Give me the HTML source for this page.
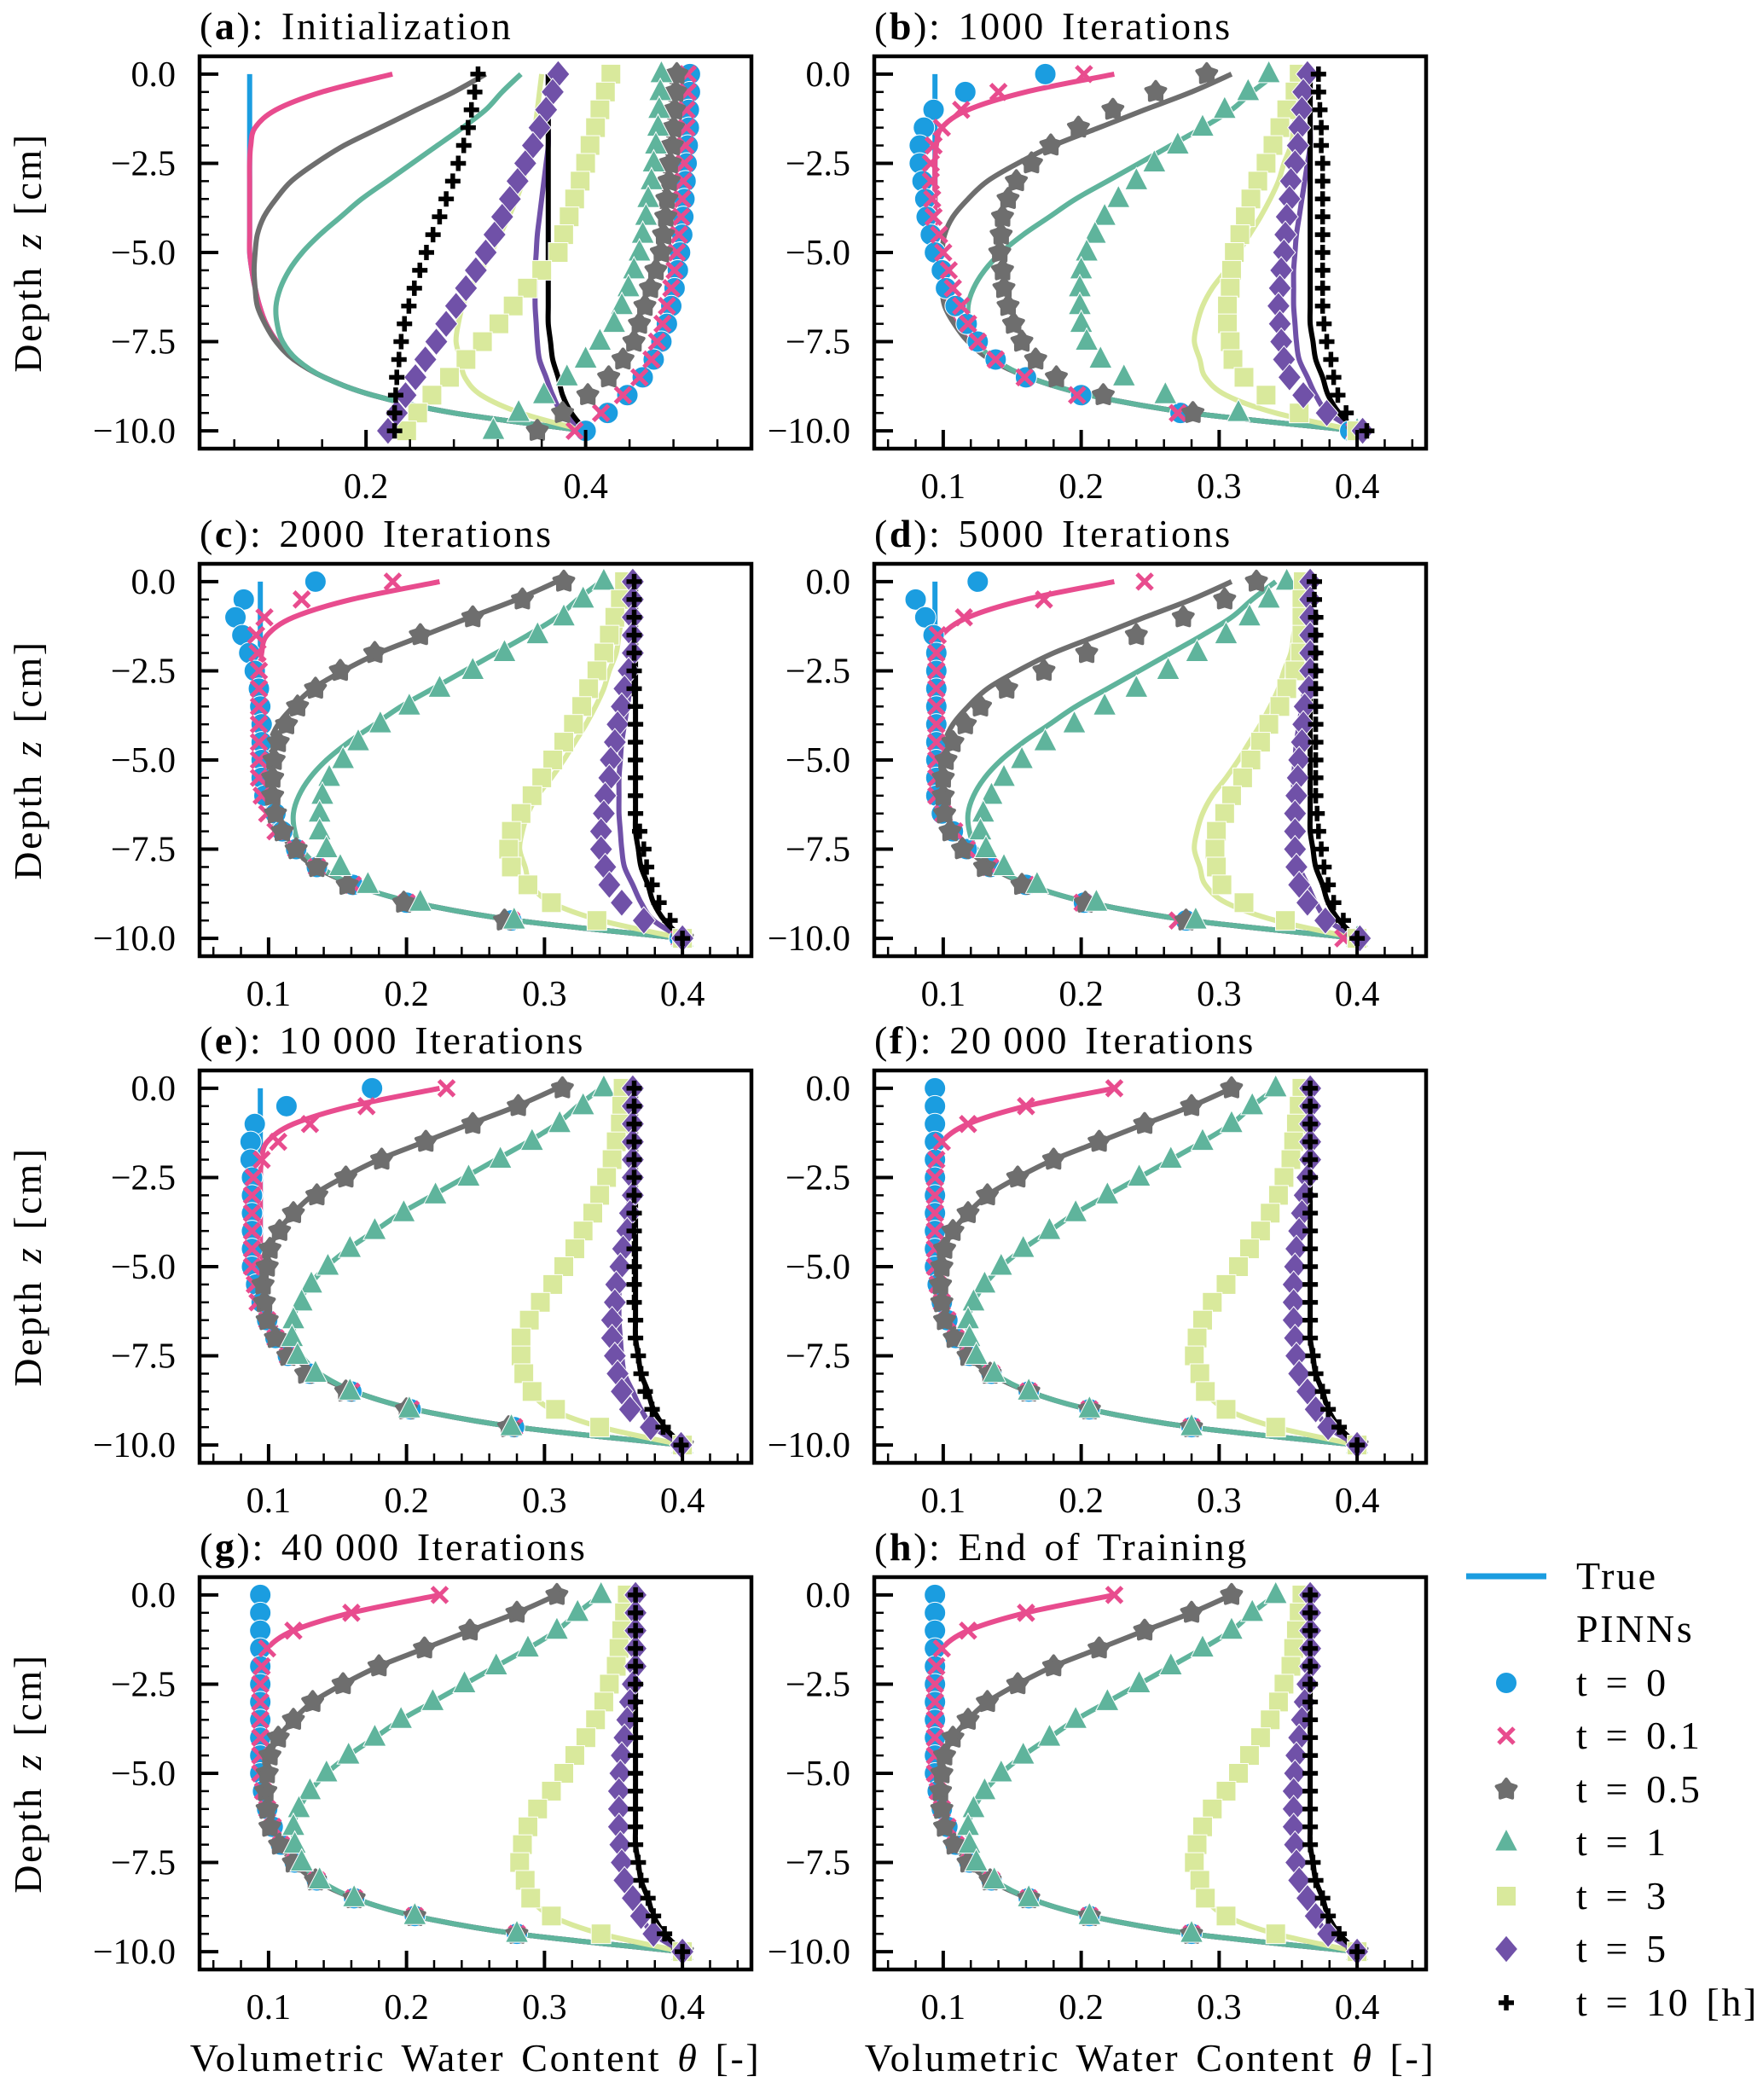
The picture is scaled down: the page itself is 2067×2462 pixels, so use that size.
<!DOCTYPE html>
<html><head><meta charset="utf-8"><style>
html,body{margin:0;padding:0;background:#fff;}
svg text{font-family:"Liberation Serif",serif;fill:#000;}
.big{font-size:46px;letter-spacing:2.6px;word-spacing:5px;}
</style></head><body>
<svg id="fig" width="2067" height="2457" viewBox="0 0 2067 2457" xmlns="http://www.w3.org/2000/svg"></svg>
<script>
const zVals = [0,-0.5,-1,-1.5,-2,-2.5,-3,-3.5,-4,-4.5,-5,-5.5,-6,-6.5,-7,-7.5,-8,-8.5,-9,-9.5,-10];
const seriesLabels = ["t = 0","t = 0.1","t = 0.5","t = 1","t = 3","t = 5","t = 10 [h]"];
const panelTitles = ["Initialization","1000 Iterations","2000 Iterations","5000 Iterations","10\u2009000 Iterations","20\u2009000 Iterations","40\u2009000 Iterations","End of Training"];
const panelLetters = ["a","b","c","d","e","f","g","h"];
const yTicks = [0,-2.5,-5,-7.5,-10];
const yTickLabels = ["0.0","\u22122.5","\u22125.0","\u22127.5","\u221210.0"];
const xTicksA = [0.2,0.4];
const xTicks = [0.1,0.2,0.3,0.4];

const true0 = [0.094,0.094,0.094,0.094,0.094,0.094,0.094,0.094,0.094,0.094,0.094,0.096,0.099,0.103,0.109,0.119,0.135,0.162,0.206,0.28,0.40];
const true01 = [0.224,0.16,0.118,0.099,0.095,0.094,0.094,0.094,0.094,0.094,0.094,0.096,0.099,0.103,0.109,0.119,0.135,0.162,0.206,0.28,0.40];
const true05 = [0.309,0.28,0.246,0.213,0.18,0.154,0.132,0.118,0.107,0.101,0.099,0.098,0.099,0.101,0.108,0.118,0.134,0.162,0.206,0.28,0.40];
const true1 = [0.341,0.324,0.309,0.288,0.265,0.242,0.219,0.196,0.177,0.158,0.142,0.13,0.122,0.118,0.119,0.124,0.137,0.162,0.206,0.28,0.40];
const true3 = [0.36,0.358,0.356,0.354,0.352,0.347,0.343,0.337,0.33,0.322,0.314,0.305,0.295,0.288,0.284,0.282,0.286,0.29,0.305,0.341,0.40];
const true5 = [0.366,0.366,0.366,0.366,0.366,0.364,0.362,0.36,0.358,0.356,0.355,0.354,0.354,0.354,0.355,0.356,0.358,0.364,0.37,0.379,0.40];
const true10 = [0.366,0.366,0.366,0.366,0.366,0.366,0.366,0.366,0.366,0.366,0.366,0.366,0.366,0.366,0.366,0.368,0.37,0.375,0.379,0.387,0.40];

const predA = [
 [0.495,0.495,0.494,0.494,0.493,0.492,0.491,0.49,0.489,0.488,0.486,0.484,0.481,0.478,0.474,0.469,0.462,0.452,0.438,0.42,0.40],
 [0.493,0.493,0.492,0.492,0.491,0.49,0.489,0.488,0.487,0.485,0.483,0.481,0.478,0.474,0.47,0.465,0.46,0.449,0.434,0.414,0.39],
 [0.483,0.482,0.481,0.48,0.479,0.477,0.476,0.474,0.473,0.471,0.469,0.464,0.459,0.454,0.449,0.444,0.434,0.421,0.402,0.379,0.356],
 [0.469,0.468,0.467,0.466,0.464,0.462,0.46,0.457,0.455,0.452,0.449,0.444,0.439,0.433,0.426,0.413,0.40,0.383,0.362,0.339,0.316],
 [0.423,0.418,0.413,0.409,0.404,0.40,0.395,0.39,0.385,0.38,0.375,0.36,0.347,0.334,0.321,0.306,0.291,0.276,0.26,0.247,0.237],
 [0.375,0.37,0.364,0.358,0.352,0.345,0.338,0.331,0.324,0.317,0.309,0.30,0.291,0.282,0.273,0.264,0.254,0.245,0.236,0.228,0.22],
 [0.302,0.299,0.296,0.293,0.289,0.284,0.279,0.273,0.267,0.261,0.255,0.249,0.244,0.239,0.235,0.232,0.23,0.228,0.227,0.226,0.226]];
const predB = [
 [0.174,0.116,0.093,0.086,0.083,0.083,0.085,0.087,0.088,0.091,0.094,0.099,0.102,0.109,0.117,0.125,0.138,0.16,0.2,0.272,0.395],
 [0.202,0.14,0.113,0.099,0.093,0.091,0.091,0.092,0.093,0.097,0.10,0.104,0.107,0.113,0.118,0.125,0.138,0.159,0.197,0.27,0.398],
 [0.291,0.254,0.223,0.198,0.178,0.164,0.153,0.147,0.143,0.142,0.141,0.143,0.144,0.147,0.151,0.157,0.167,0.182,0.216,0.281,0.40],
 [0.336,0.321,0.304,0.288,0.27,0.253,0.24,0.227,0.217,0.21,0.204,0.20,0.199,0.199,0.20,0.204,0.214,0.231,0.261,0.314,0.40],
 [0.358,0.355,0.349,0.344,0.339,0.334,0.328,0.323,0.319,0.315,0.311,0.309,0.308,0.306,0.306,0.308,0.31,0.318,0.334,0.358,0.40],
 [0.364,0.361,0.36,0.358,0.357,0.355,0.352,0.351,0.349,0.348,0.347,0.345,0.344,0.343,0.344,0.345,0.347,0.351,0.361,0.378,0.404],
 [0.372,0.372,0.373,0.374,0.374,0.375,0.375,0.375,0.375,0.375,0.375,0.375,0.375,0.375,0.376,0.378,0.381,0.383,0.386,0.392,0.407]];
const predC = [
 [0.134,0.082,0.076,0.081,0.086,0.09,0.093,0.094,0.095,0.095,0.095,0.095,0.097,0.105,0.11,0.12,0.135,0.161,0.2,0.276,0.398],
 [0.19,0.124,0.097,0.091,0.092,0.093,0.093,0.093,0.093,0.093,0.093,0.093,0.095,0.099,0.105,0.12,0.135,0.161,0.2,0.276,0.398],
 [0.314,0.284,0.248,0.21,0.177,0.152,0.134,0.121,0.113,0.107,0.104,0.103,0.103,0.105,0.11,0.12,0.135,0.157,0.198,0.271,0.40],
 [0.343,0.328,0.314,0.295,0.271,0.248,0.224,0.202,0.181,0.165,0.154,0.144,0.139,0.137,0.137,0.142,0.152,0.172,0.21,0.278,0.40],
 [0.358,0.355,0.351,0.347,0.343,0.338,0.332,0.327,0.321,0.314,0.306,0.298,0.291,0.283,0.276,0.274,0.276,0.288,0.305,0.338,0.40],
 [0.364,0.364,0.364,0.364,0.364,0.361,0.358,0.356,0.353,0.351,0.348,0.347,0.344,0.343,0.341,0.341,0.344,0.347,0.356,0.372,0.40],
 [0.365,0.365,0.365,0.365,0.365,0.365,0.365,0.366,0.366,0.366,0.366,0.366,0.366,0.366,0.369,0.372,0.374,0.378,0.383,0.391,0.40]];
const predD = [
 [0.125,0.08,0.087,0.093,0.095,0.095,0.095,0.095,0.095,0.095,0.095,0.095,0.095,0.099,0.107,0.117,0.134,0.16,0.202,0.276,0.398],
 [0.246,0.173,0.115,0.096,0.095,0.095,0.095,0.095,0.095,0.095,0.095,0.095,0.095,0.10,0.108,0.117,0.134,0.16,0.201,0.27,0.39],
 [0.327,0.304,0.274,0.24,0.204,0.173,0.146,0.127,0.116,0.107,0.102,0.10,0.10,0.101,0.105,0.114,0.13,0.157,0.203,0.276,0.40],
 [0.349,0.336,0.322,0.305,0.284,0.263,0.24,0.217,0.195,0.174,0.157,0.144,0.135,0.129,0.127,0.131,0.144,0.168,0.211,0.283,0.40],
 [0.361,0.36,0.36,0.36,0.359,0.355,0.349,0.344,0.336,0.33,0.323,0.317,0.309,0.304,0.298,0.297,0.298,0.302,0.318,0.348,0.40],
 [0.366,0.366,0.366,0.366,0.366,0.366,0.365,0.362,0.361,0.36,0.358,0.357,0.356,0.355,0.355,0.355,0.356,0.358,0.364,0.377,0.402],
 [0.369,0.369,0.37,0.37,0.37,0.37,0.37,0.37,0.37,0.37,0.37,0.37,0.37,0.371,0.372,0.374,0.376,0.379,0.383,0.39,0.40]];
const predE = [
 [0.175,0.113,0.09,0.087,0.087,0.088,0.088,0.088,0.088,0.088,0.088,0.091,0.095,0.099,0.105,0.114,0.13,0.16,0.203,0.278,0.40],
 [0.229,0.171,0.13,0.107,0.095,0.089,0.088,0.088,0.088,0.088,0.088,0.09,0.092,0.099,0.105,0.114,0.13,0.16,0.203,0.278,0.40],
 [0.313,0.281,0.248,0.214,0.182,0.156,0.135,0.118,0.108,0.101,0.099,0.096,0.097,0.099,0.105,0.114,0.127,0.156,0.20,0.274,0.40],
 [0.343,0.328,0.311,0.291,0.268,0.245,0.221,0.198,0.177,0.159,0.143,0.131,0.124,0.118,0.117,0.121,0.134,0.159,0.202,0.276,0.40],
 [0.357,0.356,0.355,0.352,0.349,0.345,0.34,0.335,0.328,0.322,0.314,0.306,0.297,0.289,0.283,0.283,0.285,0.291,0.308,0.34,0.40],
 [0.364,0.364,0.364,0.364,0.364,0.364,0.364,0.362,0.36,0.357,0.355,0.352,0.351,0.349,0.349,0.351,0.353,0.356,0.362,0.377,0.399],
 [0.365,0.365,0.365,0.365,0.365,0.365,0.365,0.365,0.365,0.365,0.365,0.365,0.365,0.366,0.366,0.368,0.37,0.373,0.378,0.386,0.399]];
const predF = [true0,true01,true05,true1,true3,true5,true10];
const predG = [true0,true01,true05,true1,true3,true5,true10];
const predH = [true0,true01,true05,true1,true3,true5,true10];

const trueSeries = [true0,true01,true05,true1,true3,true5,true10];
const preds = [predA,predB,predC,predD,predE,predF,predG,predH];

const colors = ["#1b9de0","#e84c8e","#6e6e6e","#5fb49c","#d9e99c","#7051a8","#000000"];
const markers = ["circle","x","star","tri","square","diamond","plus"];
const NS = "http://www.w3.org/2000/svg";
const svg = document.getElementById('fig');
function mk(tag, attrs, parent){const e=document.createElementNS(NS,tag);for(const k in attrs)e.setAttribute(k,attrs[k]);(parent||svg).appendChild(e);return e;}

const colX = [234,1025];
const rowY = [66,661,1255,1849];
const W = 647, H = 460;

function drawMarker(g, type, cx, cy, color){
  let e;
  if(type==="circle"){ e=mk('circle',{cx:cx,cy:cy,r:12.5,fill:color,stroke:'#fff','stroke-width':1},g); }
  else if(type==="x"){ e=mk('path',{d:`M${cx-9},${cy-9}L${cx+9},${cy+9}M${cx-9},${cy+9}L${cx+9},${cy-9}`,stroke:color,'stroke-width':5,fill:'none'},g); }
  else if(type==="star"){ let p=[];for(let i=0;i<10;i++){const r=i%2?7.5:12;const a=-Math.PI/2+i*Math.PI/5;p.push((cx+r*Math.cos(a)).toFixed(1)+','+(cy+r*Math.sin(a)).toFixed(1));}
    e=mk('polygon',{points:p.join(' '),fill:color,stroke:color,'stroke-width':4,'stroke-linejoin':'round'},g); }
  else if(type==="tri"){ e=mk('polygon',{points:`${cx},${cy-16} ${cx+13.5},${cy+10} ${cx-13.5},${cy+10}`,fill:color,stroke:'#fff','stroke-width':1},g); }
  else if(type==="square"){ e=mk('rect',{x:cx-11.5,y:cy-11.5,width:23,height:23,fill:color,stroke:'#fff','stroke-width':1},g); }
  else if(type==="diamond"){ e=mk('polygon',{points:`${cx},${cy-16} ${cx+13.5},${cy} ${cx},${cy+16} ${cx-13.5},${cy}`,fill:color,stroke:'#fff','stroke-width':1},g); }
  else { e=mk('path',{d:`M${cx-9},${cy}L${cx+9},${cy}M${cx},${cy-9}L${cx},${cy+9}`,stroke:color,'stroke-width':5.5,fill:'none'},g); }
  return e;
}
function smoothPath(pts){
  let d=`M${pts[0][0].toFixed(1)},${pts[0][1].toFixed(1)}`;
  for(let i=0;i<pts.length-1;i++){
    const p0=pts[Math.max(0,i-1)],p1=pts[i],p2=pts[i+1],p3=pts[Math.min(pts.length-1,i+2)];
    const c1=[p1[0]+(p2[0]-p0[0])/6,p1[1]+(p2[1]-p0[1])/6];
    const c2=[p2[0]-(p3[0]-p1[0])/6,p2[1]-(p3[1]-p1[1])/6];
    d+=`C${c1[0].toFixed(1)},${c1[1].toFixed(1)} ${c2[0].toFixed(1)},${c2[1].toFixed(1)} ${p2[0].toFixed(1)},${p2[1].toFixed(1)}`;
  }
  return d;
}

for(let p=0;p<8;p++){
  const col=p%2,row=Math.floor(p/2);
  const x0=colX[col],y0=rowY[row];
  const xmin = p===0?0.0484:0.05, xmax = p===0?0.551:0.45;
  const ymin=-10.5,ymax=0.5;
  const sx=v=>x0+(v-xmin)/(xmax-xmin)*W;
  const sy=v=>y0+(ymax-v)/(ymax-ymin)*H;
  const g=mk('g',{});
  
  
  const t=mk('text',{x:x0,y:y0-20,'class':'big'},g);
  
  
  t.innerHTML='(<tspan font-weight="bold">'+panelLetters[p]+'</tspan>): '+panelTitles[p];
  const cid='clip'+p;
  const cp=mk('clipPath',{id:cid},g); mk('rect',{x:x0,y:y0,width:W,height:H},cp);
  const plot=mk('g',{'clip-path':`url(#${cid})`},g);
  for(let s=0;s<7;s++){
    const pts=trueSeries[s].map((v,i)=>[sx(v),sy(zVals[i])]);
    const l=mk('path',{d:smoothPath(pts),fill:'none',stroke:colors[s],'stroke-width':6,'stroke-linejoin':'round'},plot);
    
    
  }
  for(let s=0;s<7;s++){
    const mg=mk('g',{},plot);
    
    
    preds[p][s].forEach((v,i)=>{drawMarker(mg,markers[s],sx(v),sy(zVals[i]),colors[s]);});
  }
  const tg=mk('g',{stroke:'#000'},g);
  
  
  for(let k=0;k<=20;k++){const zz=-k*0.5;const yy=sy(zz);const major=(k%5===0);
    mk('line',{x1:x0,x2:x0+(major?22:11),y1:yy,y2:yy,'stroke-width':major?4:2.5},tg);}
  let minorStep = p===0?0.04:0.02, mStart = p===0?0.08:0.06, mEnd = p===0?0.52:0.44;
  for(let v=mStart; v<=mEnd+1e-9; v+=minorStep){const xx=sx(v);
    const major = p===0 ? xTicksA.some(m=>Math.abs(m-v)<1e-6) : xTicks.some(m=>Math.abs(m-v)<1e-6);
    mk('line',{x1:xx,x2:xx,y1:y0+H,y2:y0+H-(major?22:11),'stroke-width':major?4:2.5},tg);}
  const xt=p===0?xTicksA:xTicks;
  xt.forEach(v=>{const e=mk('text',{x:sx(v),y:y0+H+58,'font-size':42,'text-anchor':'middle'},g);
    
    
    e.textContent=v.toFixed(1);});
  yTicks.forEach((v,i)=>{const e=mk('text',{x:x0-28,y:sy(v)+14,'font-size':42,'text-anchor':'end'},g);
    
    
    e.textContent=yTickLabels[i];});
  const fr=mk('rect',{x:x0,y:y0,width:W,height:H,fill:'none',stroke:'#000','stroke-width':4.5},g);
  
  
  if(col===0){
    const yl=mk('text',{x:0,y:0,'class':'big','text-anchor':'middle',transform:`translate(48,${y0+H/2}) rotate(-90)`},g);
    
    
    yl.innerHTML='Depth <tspan font-style="italic">z</tspan> [cm]';
  }
  if(row===3){
    const xl=mk('text',{x:x0+W/2,y:2428,'class':'big','text-anchor':'middle'},g);
    
    
    xl.innerHTML='Volumetric Water Content <tspan font-style="italic">θ</tspan> [-]';
  }
}

const lg=mk('g',{});


const legY=[1848,1910,1973,2035,2098,2160,2223,2285,2348];
mk('line',{x1:1719,x2:1813,y1:legY[0],y2:legY[0],stroke:colors[0],'stroke-width':7},lg);
let te=mk('text',{x:1848,y:legY[0]+15,'class':'big'},lg); te.textContent='True';
te=mk('text',{x:1848,y:legY[1]+15,'class':'big'},lg); te.textContent='PINNs';
for(let s=0;s<7;s++){
  const eg=mk('g',{},lg);
  
  
  drawMarker(eg,markers[s],1766,legY[s+2],colors[s]);
  const tt=mk('text',{x:1848,y:legY[s+2]+15,'class':'big'},eg); tt.textContent=seriesLabels[s];
}
</script>
</body></html>
